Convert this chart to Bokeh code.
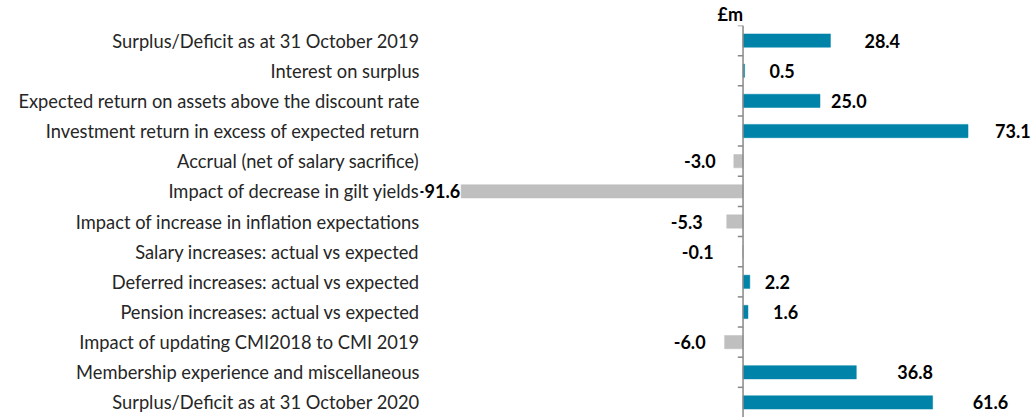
from bokeh.plotting import figure
from bokeh.models import ColumnDataSource, Range1d, FixedTicker, Span
from bokeh.embed import file_html
from bokeh.resources import INLINE
from bokeh.core.properties import value

categories = [
    "Surplus/Deficit as at 31 October 2019",
    "Interest on surplus",
    "Expected return on assets above the discount rate",
    "Investment return in excess of expected return",
    "Accrual (net of salary sacrifice)",
    "Impact of decrease in gilt yields",
    "Impact of increase in inflation expectations",
    "Salary increases: actual vs expected",
    "Deferred increases: actual vs expected",
    "Pension increases: actual vs expected",
    "Impact of updating CMI2018 to CMI 2019",
    "Membership experience and miscellaneous",
    "Surplus/Deficit as at 31 October 2020",
]
values = [28.4, 0.5, 25.0, 73.1, -3.0, -91.6, -5.3, -0.1, 2.2, 1.6, -6.0, 36.8, 61.6]
value_labels = ["28.4", "0.5", "25.0", "73.1", "-3.0", "-91.6", "-5.3", "-0.1",
                "2.2", "1.6", "-6.0", "36.8", "61.6"]

# styling: pixel offsets of the value labels from the bar ends
label_offset_px = [34, 25, 11, 27, -18, -1, -24, -29, 15, 25, -19, 41, 40]

POS = "#0083A9"
NEG = "#BFBFBF"
FONT = "Lato"

idx = list(range(len(categories)))
src = ColumnDataSource(dict(
    y=idx,
    v=values,
    lbl=value_labels,
    off=label_offset_px,
    color=[POS if v >= 0 else NEG for v in values],
    align=["left" if v >= 0 else "right" for v in values],
))

p = figure(width=1034, height=417, output_backend="svg", toolbar_location=None,
           x_range=Range1d(-104.8, 94.7), y_range=Range1d(len(categories) - 0.5, -0.5),
           x_axis_location=None, title="£m",
           min_border_left=420, min_border_right=0, min_border_bottom=0, min_border_top=0)
p.outline_line_color = None
p.grid.visible = False
p.background_fill_color = "white"

p.title.text_font = FONT
p.title.text_font_style = "bold"
p.title.text_font_size = "18px"
p.title.text_color = "#000000"
p.title.align = "left"
p.title.offset = 297
p.title.standoff = 1

yax = p.yaxis[0]
yax.ticker = FixedTicker(ticks=idx)
yax.major_label_overrides = {i: c for i, c in zip(idx, categories)}
yax.axis_line_color = None
yax.major_tick_line_color = None
yax.minor_tick_line_color = None
yax.major_label_standoff = -5
yax.major_label_text_font = FONT
yax.major_label_text_font_size = "18.3px"
yax.major_label_text_color = "#262626"

p.hbar(y="y", left=0, right="v", height=0.44, fill_color="color", line_color="color",
       line_width=0.5, source=src)

# zero axis with category-boundary ticks
p.add_layout(Span(location=0, dimension="height", line_color="#888888", line_width=1.5))
bounds = [i - 0.5 for i in range(len(categories))]
p.segment(x0=[-1.7] * len(bounds), x1=[0] * len(bounds), y0=bounds, y1=bounds,
          line_color="#888888", line_width=1.5)

p.text(x="v", y="y", text="lbl", x_offset="off", text_align="align",
       text_baseline="middle", text_font=value(FONT), text_font_style="bold",
       text_font_size="18px", text_color="#000000", source=src)

open("out.html", "w").write(file_html(p, INLINE))
